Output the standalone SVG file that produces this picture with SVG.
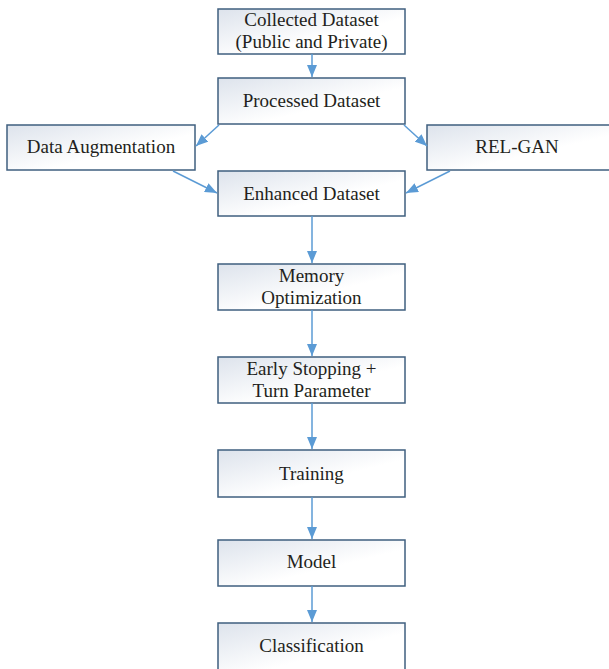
<svg xmlns="http://www.w3.org/2000/svg" width="609" height="669" viewBox="0 0 609 669">
<defs>
<linearGradient id="g" x1="0" y1="0" x2="1" y2="1">
<stop offset="0" stop-color="#dde3ec"/>
<stop offset="0.6" stop-color="#ffffff"/>
</linearGradient>
<marker id="a" viewBox="0 0 12 10" refX="12" refY="5" markerWidth="12" markerHeight="10" markerUnits="userSpaceOnUse" orient="auto">
<path d="M0,0 L12,5 L0,10 Z" fill="#5b9bd5"/>
</marker>
<style>
.b{fill:url(#g);stroke:#3f5f7f;stroke-width:1.5}
.t{font-family:'Liberation Serif','DejaVu Serif',serif;font-size:19px;fill:#231f20;text-anchor:middle}
.c{stroke:#5b9bd5;stroke-width:1.5;fill:none;marker-end:url(#a)}
</style>
</defs>
<rect width="609" height="669" fill="#ffffff"/>
<g id="collected"><rect class="b" x="218" y="9" width="187" height="45"/><text class="t" x="311.5" y="26">Collected Dataset</text><text class="t" x="311.5" y="48">(Public and Private)</text></g>
<g id="processed"><rect class="b" x="218" y="78" width="187" height="46"/><text class="t" x="311.5" y="107">Processed Dataset</text></g>
<g id="augmentation"><rect class="b" x="7" y="125" width="188" height="45"/><text class="t" x="101" y="153">Data Augmentation</text></g>
<g id="relgan"><rect class="b" x="427" y="125" width="190" height="45"/><text class="t" x="517" y="153">REL-GAN</text></g>
<g id="enhanced"><rect class="b" x="218" y="171" width="187" height="45"/><text class="t" x="311.5" y="200">Enhanced Dataset</text></g>
<g id="memory"><rect class="b" x="218" y="264" width="187" height="46"/><text class="t" x="311.5" y="282">Memory</text><text class="t" x="311.5" y="304">Optimization</text></g>
<g id="early"><rect class="b" x="218" y="357" width="187" height="46"/><text class="t" x="311.5" y="375">Early Stopping +</text><text class="t" x="311.5" y="397">Turn Parameter</text></g>
<g id="training"><rect class="b" x="218" y="450" width="187" height="47"/><text class="t" x="311.5" y="480">Training</text></g>
<g id="model"><rect class="b" x="218" y="540" width="187" height="46"/><text class="t" x="311.5" y="568">Model</text></g>
<g id="classification"><rect class="b" x="218" y="623" width="187" height="50"/><text class="t" x="311.5" y="652">Classification</text></g>
<g id="connectors">
<line class="c" x1="312" y1="54" x2="312" y2="77"/>
<line class="c" x1="219" y1="125" x2="196" y2="146"/>
<line class="c" x1="404" y1="125" x2="427" y2="146"/>
<line class="c" x1="173" y1="171" x2="217" y2="193"/>
<line class="c" x1="450" y1="171" x2="406" y2="193"/>
<line class="c" x1="312" y1="216" x2="312" y2="263"/>
<line class="c" x1="312" y1="310" x2="312" y2="356"/>
<line class="c" x1="312" y1="403" x2="312" y2="449"/>
<line class="c" x1="312" y1="497" x2="312" y2="539"/>
<line class="c" x1="312" y1="586" x2="312" y2="622"/>
</g>
</svg>
